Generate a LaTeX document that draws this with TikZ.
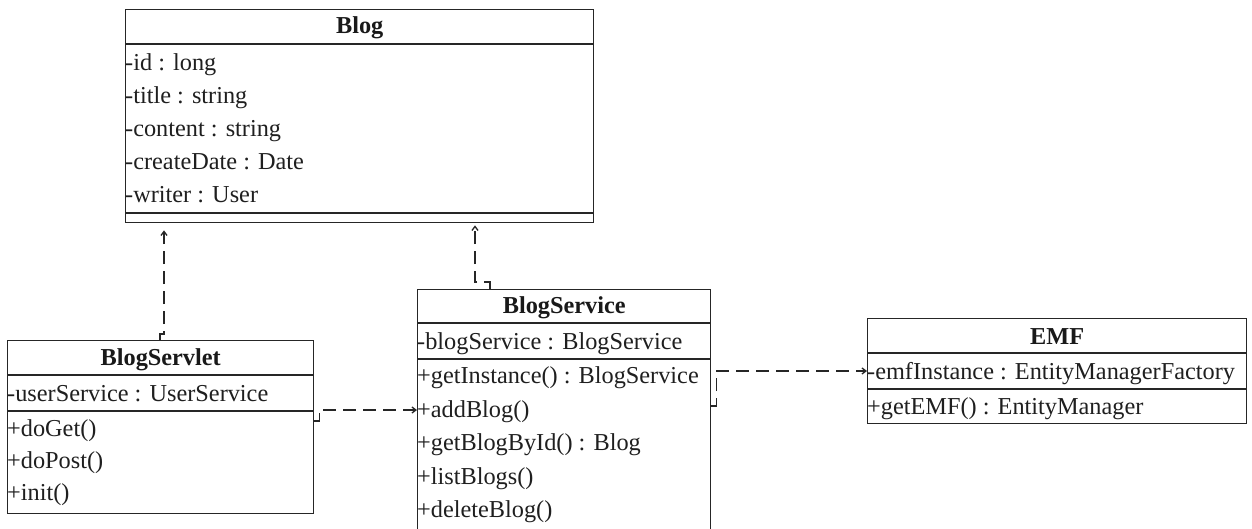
\documentclass[tikz,border=0pt]{standalone}
\usepackage{fontspec}
\setmainfont{Liberation Serif}
\usetikzlibrary{arrows.meta,calc}
\begin{document}
\begin{tikzpicture}[x=1pt,y=-1pt,
  umlbox/.style={draw=black!85, line width=1.4pt, inner sep=0pt, anchor=north west, fill=white},
  sepline/.style={draw=black!85, line width=1.4pt},
  ctitle/.style={font=\fontsize{24.3}{29}\selectfont\bfseries, anchor=base, inner sep=0pt, text=black!90},
  member/.style={font=\fontsize{24.3}{29}\selectfont, anchor=base west, inner sep=0pt, text=black!88},
  dep/.style={draw=black!85, line width=1.3pt, dash pattern=on 13pt off 7pt,
    -{Straight Barb[length=4pt,width=6pt]}}]
\useasboundingbox (0,0) rectangle (1252,528);
\clip (0,0) rectangle (1252,528);
\fill[white] (0,0) rectangle (1252,528);

% Blog
\node[umlbox, minimum width=468pt, minimum height=213pt] (blog) at (125,9) {};
\draw[sepline] ($(blog.north west)+(0,35)$) -- ($(blog.north east)+(0,35)$);
\draw[sepline] ($(blog.north west)+(0,204)$) -- ($(blog.north east)+(0,204)$);
\node[ctitle] (blogT) at ($(blog.north)+(0,24)$) {Blog};
\node[member] (blogA1) at ($(blog.north west)+(0,61)$) {-id : long};
\node[member] (blogA2) at ($(blog.north west)+(0,94)$) {-title : string};
\node[member] (blogA3) at ($(blog.north west)+(0,127)$) {-content : string};
\node[member] (blogA4) at ($(blog.north west)+(0,160)$) {-createDate : Date};
\node[member] (blogA5) at ($(blog.north west)+(0,193)$) {-writer : User};

% BlogServlet
\node[umlbox, minimum width=306pt, minimum height=173pt] (servlet) at (7,340) {};
\draw[sepline] ($(servlet.north west)+(0,35)$) -- ($(servlet.north east)+(0,35)$);
\draw[sepline] ($(servlet.north west)+(0,71)$) -- ($(servlet.north east)+(0,71)$);
\node[ctitle] (servletT) at ($(servlet.north)+(0,25)$) {BlogServlet};
\node[member] (servletA1) at ($(servlet.north west)+(0,61)$) {-userService : UserService};
\node[member] (servletM1) at ($(servlet.north west)+(0,96)$) {+doGet()};
\node[member] (servletM2) at ($(servlet.north west)+(0,128)$) {+doPost()};
\node[member] (servletM3) at ($(servlet.north west)+(0,160)$) {+init()};

% BlogService (runs past the lower edge)
\node[umlbox, minimum width=293pt, minimum height=260pt] (service) at (417,289) {};
\draw[sepline] ($(service.north west)+(0,34)$) -- ($(service.north east)+(0,34)$);
\draw[sepline] ($(service.north west)+(0,70)$) -- ($(service.north east)+(0,70)$);
\node[ctitle] (serviceT) at ($(service.north)+(0,24)$) {BlogService};
\node[member] (serviceA1) at ($(service.north west)+(0,60)$) {-blogService : BlogService};
\node[member] (serviceM1) at ($(service.north west)+(0,94)$) {+getInstance() : BlogService};
\node[member] (serviceM2) at ($(service.north west)+(0,128)$) {+addBlog()};
\node[member] (serviceM3) at ($(service.north west)+(0,161)$) {+getBlogById() : Blog};
\node[member] (serviceM4) at ($(service.north west)+(0,195)$) {+listBlogs()};
\node[member] (serviceM5) at ($(service.north west)+(0,228)$) {+deleteBlog()};

% EMF
\node[umlbox, minimum width=379pt, minimum height=105pt] (emf) at (867,318) {};
\draw[sepline] ($(emf.north west)+(0,35)$) -- ($(emf.north east)+(0,35)$);
\draw[sepline] ($(emf.north west)+(0,71)$) -- ($(emf.north east)+(0,71)$);
\node[ctitle] (emfT) at ($(emf.north)+(0,26)$) {EMF};
\node[member] (emfA1) at ($(emf.north west)+(0,61)$) {-emfInstance : EntityManagerFactory};
\node[member] (emfM1) at ($(emf.north west)+(0,96)$) {+getEMF() : EntityManager};

% dependencies
\coordinate (blogIn1) at ($(blog.south west)+(39,7)$);
\coordinate (blogIn2) at ($(blog.south west)+(350,2)$);
\draw[dep] ($(servlet.north west)+(153,0)$) -- ++(0,-6) -- ++(4,0) -- (blogIn1);
\draw[dep] ($(service.north west)+(73,0)$) -- ++(0,-7) -- ++(-15,0) -- (blogIn2);
\draw[dep] ($(servlet.north east)+(0,81)$) -- ++(5,0) -- ++(0,-11) -- ($(service.north west)+(0,121)$);
\draw[dep] ($(service.north east)+(0,117)$) -- ++(5,0) -- ++(0,-35) -- ($(emf.north west)+(0,53)$);
\end{tikzpicture}
\end{document}
